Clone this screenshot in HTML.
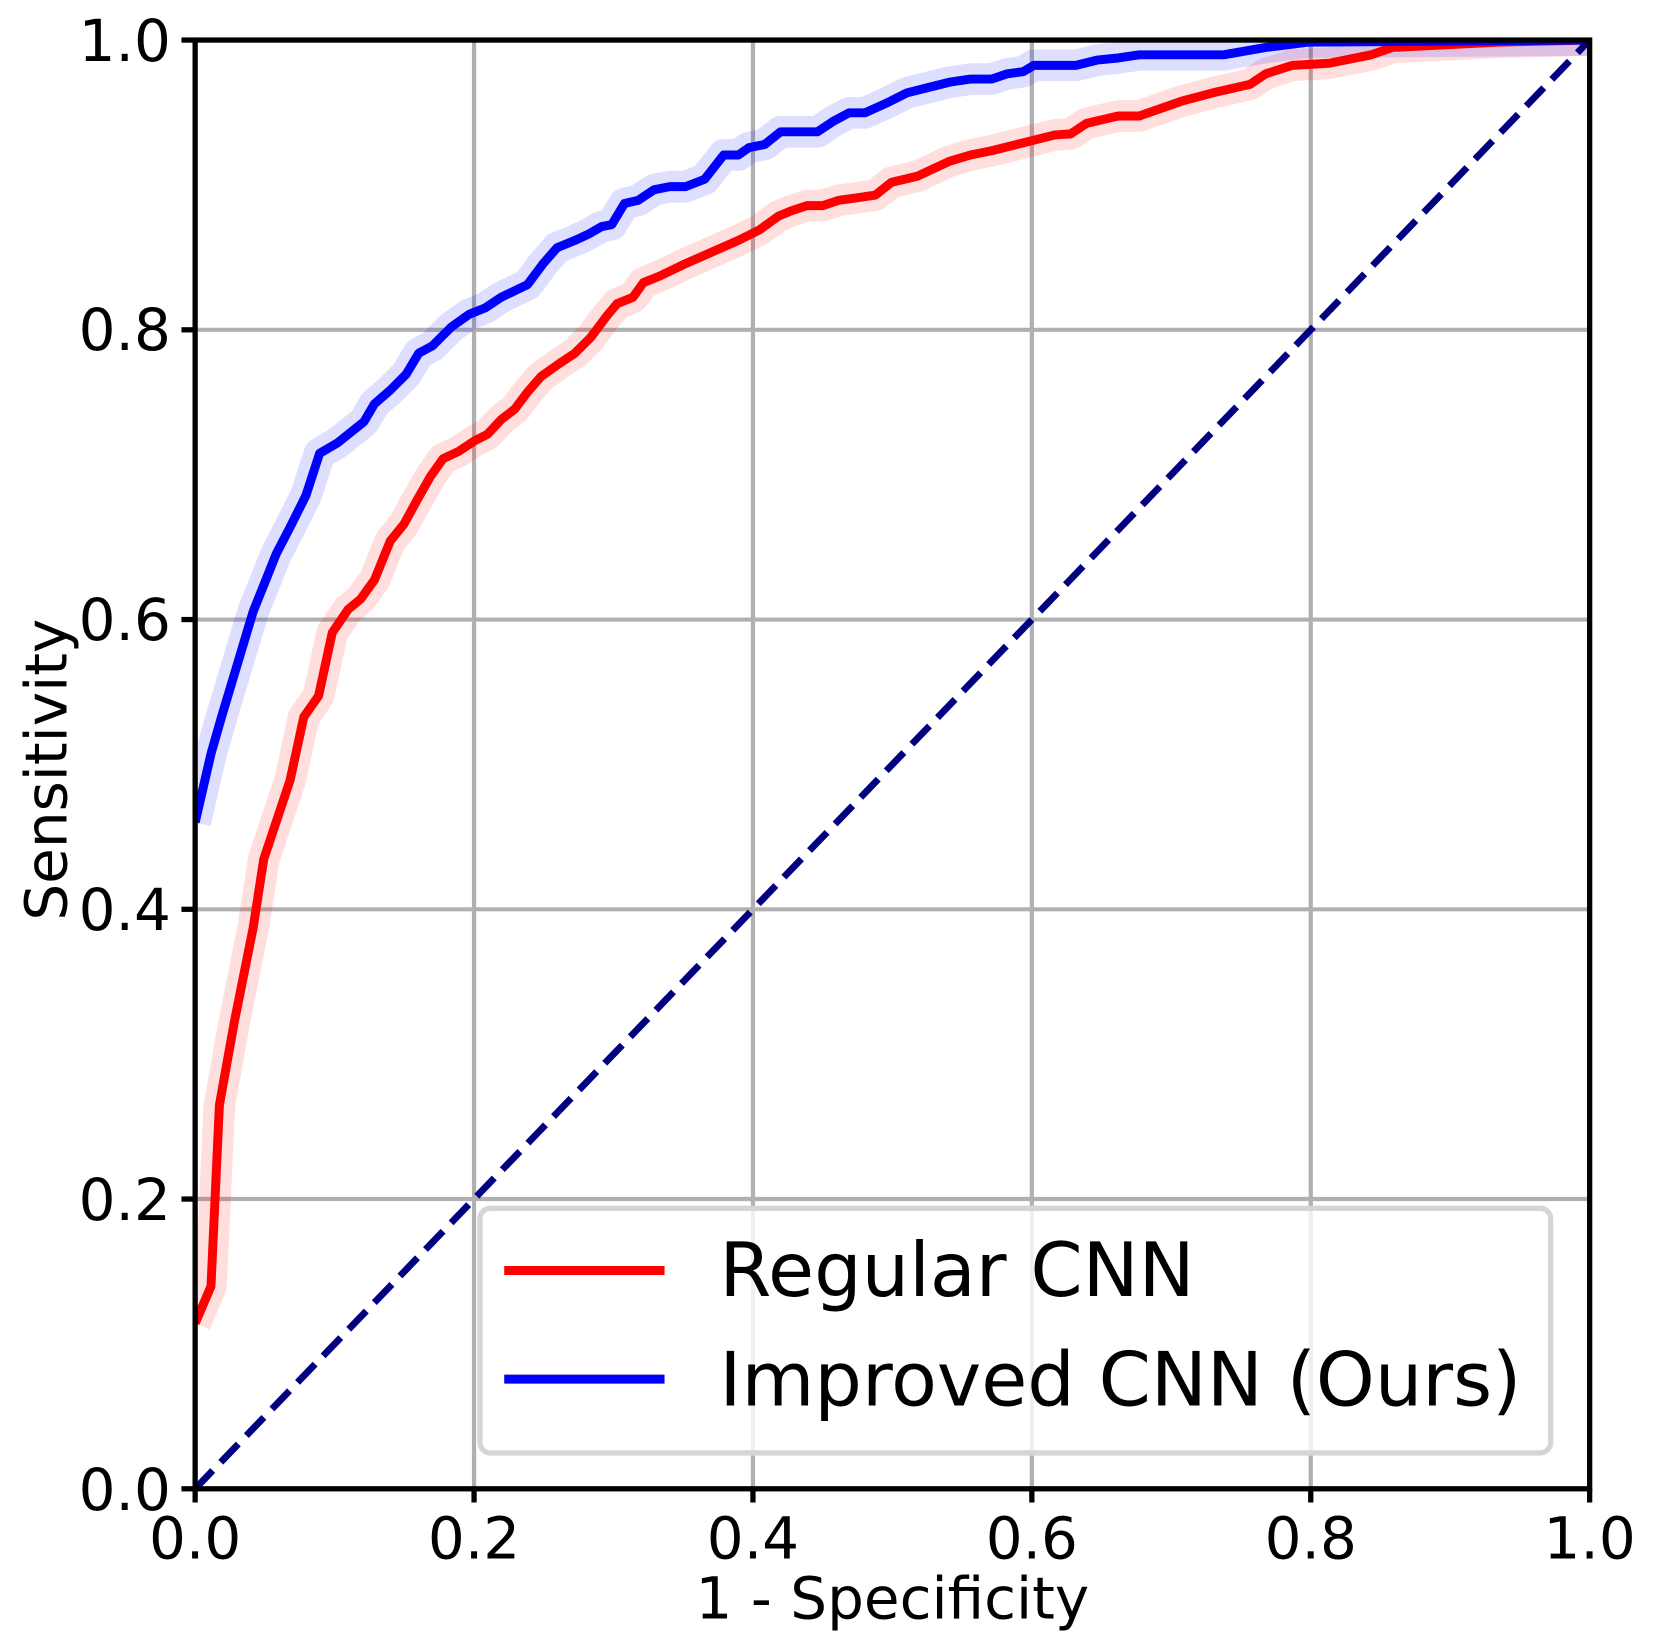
<!DOCTYPE html>
<html><head><style>html,body{margin:0;padding:0;background:#fff}svg{display:block}</style></head>
<body>
<svg width="1654" height="1648" viewBox="0 0 1568 1563" preserveAspectRatio="none" xmlns="http://www.w3.org/2000/svg" font-family="'DejaVu Sans','Liberation Sans',sans-serif">
<rect width="1568" height="1563" fill="#fff"/>
<g stroke="#b0b0b0" stroke-width="4">
<line x1="449.4" y1="38" x2="449.4" y2="1412"/><line x1="713.8" y1="38" x2="713.8" y2="1412"/><line x1="978.2" y1="38" x2="978.2" y2="1412"/><line x1="1242.6" y1="38" x2="1242.6" y2="1412"/>
<line x1="185" y1="1137.2" x2="1507" y2="1137.2"/><line x1="185" y1="862.4" x2="1507" y2="862.4"/><line x1="185" y1="587.6" x2="1507" y2="587.6"/><line x1="185" y1="312.8" x2="1507" y2="312.8"/>
</g>
<clipPath id="c"><rect x="185" y="38" width="1322" height="1374"/></clipPath>
<g clip-path="url(#c)" fill="none" stroke-linejoin="round">
<polyline stroke="#ff0000" stroke-opacity="0.13" stroke-width="30" points="185,1255 200,1220 208,1048 222,970 240,880 250,815 275,740 288,680 302,660 315,600 330,578 342,568 355,550 370,513 383,497 395,475 408,452 420,435 435,428 450,418 462,412 475,398 488,388 500,372 513,357 530,345 545,335 560,320 575,300 585,288 600,282 610,268 625,262 650,250 700,228 720,218 738,205 750,200 765,195 780,195 795,190 810,188 830,185 845,173 870,167 900,153 920,147 940,143 960,138 1000,128 1015,127 1030,117 1060,110 1080,110 1100,103 1120,96 1150,88 1185,80 1200,70 1225,62 1260,60 1300,52 1320,45 1380,42 1420,40 1507,38"/>
<polyline stroke="#0000ff" stroke-opacity="0.13" stroke-width="30" points="185,780 200,715 210,680 225,630 240,580 262,525 275,500 290,470 303,430 320,420 345,400 355,383 370,370 385,355 397,335 410,328 428,310 445,298 460,292 475,282 500,270 515,250 528,235 545,228 558,222 570,215 580,213 592,193 605,190 620,180 635,177 650,177 668,170 686,147 700,147 710,140 725,137 740,125 775,125 790,115 805,107 820,107 840,98 860,88 880,83 900,78 920,75 940,75 955,70 970,68 980,62 1020,62 1040,57 1060,55 1080,52 1160,52 1200,45 1240,40 1507,38"/>
<polyline stroke="#ff0000" stroke-width="8.5" points="185,1255 200,1220 208,1048 222,970 240,880 250,815 275,740 288,680 302,660 315,600 330,578 342,568 355,550 370,513 383,497 395,475 408,452 420,435 435,428 450,418 462,412 475,398 488,388 500,372 513,357 530,345 545,335 560,320 575,300 585,288 600,282 610,268 625,262 650,250 700,228 720,218 738,205 750,200 765,195 780,195 795,190 810,188 830,185 845,173 870,167 900,153 920,147 940,143 960,138 1000,128 1015,127 1030,117 1060,110 1080,110 1100,103 1120,96 1150,88 1185,80 1200,70 1225,62 1260,60 1300,52 1320,45 1380,42 1420,40 1507,38"/>
<polyline stroke="#0000ff" stroke-width="8.5" points="185,780 200,715 210,680 225,630 240,580 262,525 275,500 290,470 303,430 320,420 345,400 355,383 370,370 385,355 397,335 410,328 428,310 445,298 460,292 475,282 500,270 515,250 528,235 545,228 558,222 570,215 580,213 592,193 605,190 620,180 635,177 650,177 668,170 686,147 700,147 710,140 725,137 740,125 775,125 790,115 805,107 820,107 840,98 860,88 880,83 900,78 920,75 940,75 955,70 970,68 980,62 1020,62 1040,57 1060,55 1080,52 1160,52 1200,45 1240,40 1507,38"/>
<line x1="185" y1="1412" x2="1507" y2="38" stroke="#000080" stroke-width="6.5" stroke-dasharray="24,11"/>
</g>
<rect x="185" y="38" width="1322" height="1374" fill="none" stroke="#000" stroke-width="5"/>
<g stroke="#000" stroke-width="5">
<line x1="185" y1="1412" x2="185" y2="1425"/><line x1="449.4" y1="1412" x2="449.4" y2="1425"/><line x1="713.8" y1="1412" x2="713.8" y2="1425"/><line x1="978.2" y1="1412" x2="978.2" y2="1425"/><line x1="1242.6" y1="1412" x2="1242.6" y2="1425"/><line x1="1507" y1="1412" x2="1507" y2="1425"/>
<line x1="172" y1="1412" x2="185" y2="1412"/><line x1="172" y1="1137.2" x2="185" y2="1137.2"/><line x1="172" y1="862.4" x2="185" y2="862.4"/><line x1="172" y1="587.6" x2="185" y2="587.6"/><line x1="172" y1="312.8" x2="185" y2="312.8"/><line x1="172" y1="38" x2="185" y2="38"/>
</g>
<g font-size="55" fill="#000">
<g text-anchor="middle">
<text x="185" y="1478">0.0</text><text x="449.4" y="1478">0.2</text><text x="713.8" y="1478">0.4</text><text x="978.2" y="1478">0.6</text><text x="1242.6" y="1478">0.8</text><text x="1507" y="1478">1.0</text>
</g>
<g text-anchor="end">
<text x="162" y="1432">0.0</text><text x="162" y="1157">0.2</text><text x="162" y="882">0.4</text><text x="162" y="607">0.6</text><text x="162" y="332">0.8</text><text x="162" y="58">1.0</text>
</g>
<text x="846" y="1535" text-anchor="middle">1 - Specificity</text>
<text transform="translate(63,730) rotate(-90)" text-anchor="middle">Sensitivity</text>
</g>
<rect x="455" y="1146" width="1015" height="232" rx="10" fill="#fff" fill-opacity="0.8" stroke="#d5d5d5" stroke-width="5"/>
<line x1="478" y1="1205" x2="630" y2="1205" stroke="#ff0000" stroke-width="8.5"/>
<line x1="478" y1="1308" x2="630" y2="1308" stroke="#0000ff" stroke-width="8.5"/>
<text x="682" y="1229" font-size="71">Regular CNN</text>
<text x="682" y="1333" font-size="71">Improved CNN (Ours)</text>
</svg>
</body></html>
